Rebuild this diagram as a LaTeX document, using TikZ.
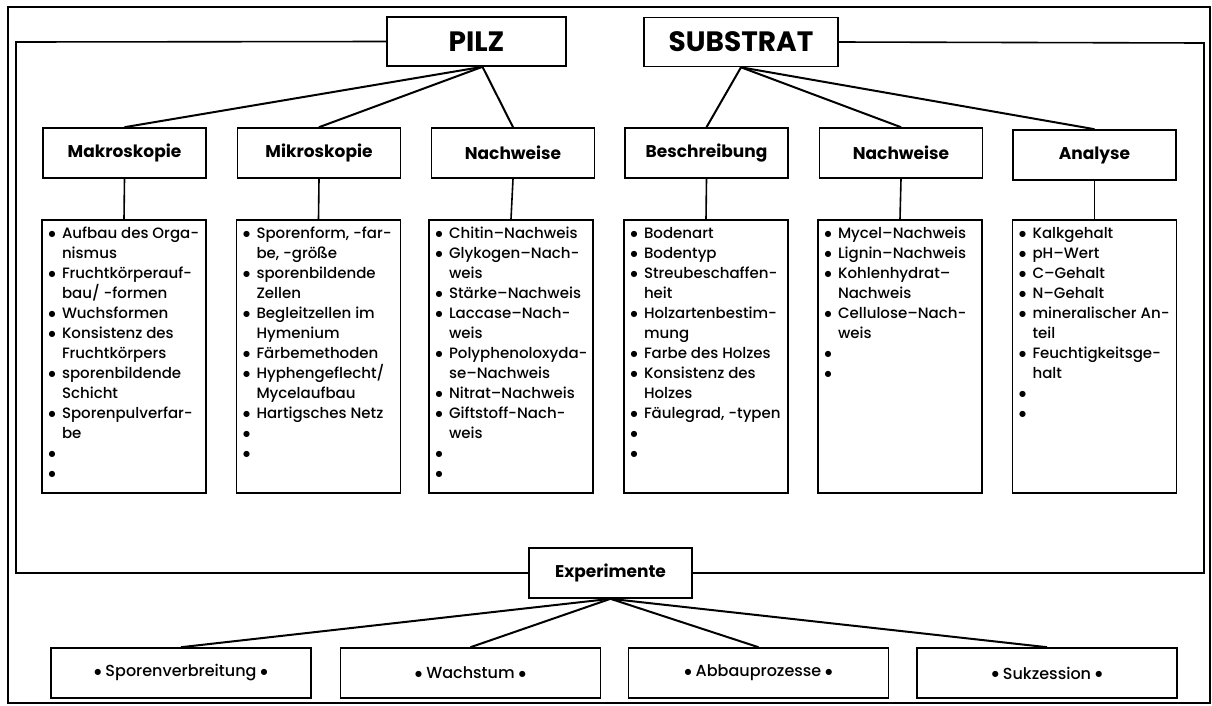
\documentclass[tikz,border=0pt]{standalone}
\usepackage{fontspec}
\setmainfont{Poppins}[UprightFont=* Medium,BoldFont=* Bold]
\newfontfamily\symfont{DejaVu Sans}
\newcommand\bigdot{\raisebox{2.6pt}{\symfont\fontsize{8}{10}\selectfont ●}}
\newcommand\listdot{\makebox[10pt]{\bigdot}}
\begin{document}
\begin{tikzpicture}[x=1pt,y=-1pt,
  frame/.style={line width=1.6pt},
  box/.style={draw,line width=1.6pt,inner sep=0pt,align=center},
  topbox/.style={box,minimum height=49pt,font=\fontsize{28}{30}\selectfont\bfseries},
  headbox/.style={box,minimum width=163pt,minimum height=50pt,font=\fontsize{17}{19}\selectfont\bfseries},
  listbox/.style={draw,line width=1.6pt,inner xsep=5pt,inner ysep=4pt,anchor=north,
    font=\fontsize{15}{20}\selectfont},
  expbox/.style={box,minimum width=260pt,minimum height=50pt,font=\fontsize{16}{18}\selectfont},
  conn/.style={line width=2pt},
  link/.style={line width=1.6pt}]
\useasboundingbox (0,0) rectangle (1212,705);

% outer frame
\draw[frame] (8,7) rectangle (1210,703);

% top level
\node[topbox,minimum width=179pt] (pilz) at (476.5,41.5) {PILZ};
\node[topbox,minimum width=194pt] (substrat) at (741,42) {SUBSTRAT};

% second level
\node[headbox] (makro) at (124.5,153) {Makroskopie};
\node[headbox] (mikro) at (319,153) {Mikroskopie};
\node[headbox] (pnach) at (513,153) {Nachweise};
\node[headbox] (beschr) at (706.5,153) {Beschreibung};
\node[headbox] (snach) at (901,153) {Nachweise};
\node[headbox] (analyse) at (1094.5,155) {Analyse};

% item lists
\newcommand\itemlist[1]{\begin{minipage}[t][265pt][t]{154pt}\vspace*{1pt}%
  \begin{tabular}[t]{@{}l@{\hspace{5pt}}l@{}}#1\end{tabular}\end{minipage}}

\node[listbox] (lmakro) at (124,219) {\itemlist{
  \listdot & Aufbau des Orga-\\ & nismus\\
  \listdot & Fruchtkörperauf-\\ & bau/ -formen\\
  \listdot & Wuchsformen\\
  \listdot & Konsistenz des\\ & Fruchtkörpers\\
  \listdot & sporenbildende\\ & Schicht\\
  \listdot & Sporenpulverfar-\\ & be\\
  \listdot & \\ \listdot & }};
\node[listbox] (lmikro) at (318.5,219) {\itemlist{
  \listdot & Sporenform, -far-\\ & be, -größe\\
  \listdot & sporenbildende\\ & Zellen\\
  \listdot & Begleitzellen im\\ & Hymenium\\
  \listdot & Färbemethoden\\
  \listdot & Hyphengeflecht/\\ & Mycelaufbau\\
  \listdot & Hartigsches Netz\\
  \listdot & \\ \listdot & }};
\node[listbox] (lpnach) at (511,219) {\itemlist{
  \listdot & Chitin–Nachweis\\
  \listdot & Glykogen–Nach-\\ & weis\\
  \listdot & Stärke–Nachweis\\
  \listdot & Laccase–Nach-\\ & weis\\
  \listdot & Polyphenoloxyda-\\ & se–Nachweis\\
  \listdot & Nitrat–Nachweis\\
  \listdot & Giftstoff-Nach-\\ & weis\\
  \listdot & \\ \listdot & }};
\node[listbox] (lbeschr) at (706,219) {\itemlist{
  \listdot & Bodenart\\
  \listdot & Bodentyp\\
  \listdot & Streubeschaffen-\\ & heit\\
  \listdot & Holzartenbestim-\\ & mung\\
  \listdot & Farbe des Holzes\\
  \listdot & Konsistenz des\\ & Holzes\\
  \listdot & Fäulegrad, -typen\\
  \listdot & \\ \listdot & }};
\node[listbox] (lsnach) at (900,219) {\itemlist{
  \listdot & Mycel–Nachweis\\
  \listdot & Lignin–Nachweis\\
  \listdot & Kohlenhydrat–\\ & Nachweis\\
  \listdot & Cellulose–Nach-\\ & weis\\
  \listdot & \\ \listdot & }};
\node[listbox] (lanalyse) at (1094.5,219) {\itemlist{
  \listdot & Kalkgehalt\\
  \listdot & pH–Wert\\
  \listdot & C–Gehalt\\
  \listdot & N–Gehalt\\
  \listdot & mineralischer An-\\ & teil\\
  \listdot & Feuchtigkeitsge-\\ & halt\\
  \listdot & \\ \listdot & }};

% experiments
\node[headbox,minimum width=163pt] (exp) at (610.5,573) {Experimente};
\node[expbox] (e1) at (181,673) {\bigdot\ Sporenverbreitung \bigdot};
\node[expbox] (e2) at (470.5,673) {\bigdot\ Wachstum \bigdot};
\node[expbox] (e3) at (758.5,673) {\bigdot\ Abbauprozesse \bigdot};
\node[expbox] (e4) at (1047,673) {\bigdot\ Sukzession \bigdot};

% inner frame joining the three main nodes
\coordinate (fl) at (16,42);
\coordinate (fr) at (1204,43);
\draw[link] (pilz.west) -- (fl) |- (exp.west);
\draw[link] (substrat.east) -- (fr) |- (exp.east);

% connectors
\coordinate (pj) at ([xshift=6pt]pilz.south);
\foreach \t in {makro,mikro,pnach} \draw[conn] (pj) -- (\t.north);
\foreach \t in {beschr,snach,analyse} \draw[conn] (substrat.south) -- (\t.north);
\foreach \a/\b in {makro/lmakro,mikro/lmikro,pnach/lpnach,beschr/lbeschr,snach/lsnach,analyse/lanalyse}
  \draw[link] (\a.south) -- (\b.north);
\foreach \t in {e1,e2,e3,e4} \draw[conn] (exp.south) -- (\t.north);
\end{tikzpicture}
\end{document}
